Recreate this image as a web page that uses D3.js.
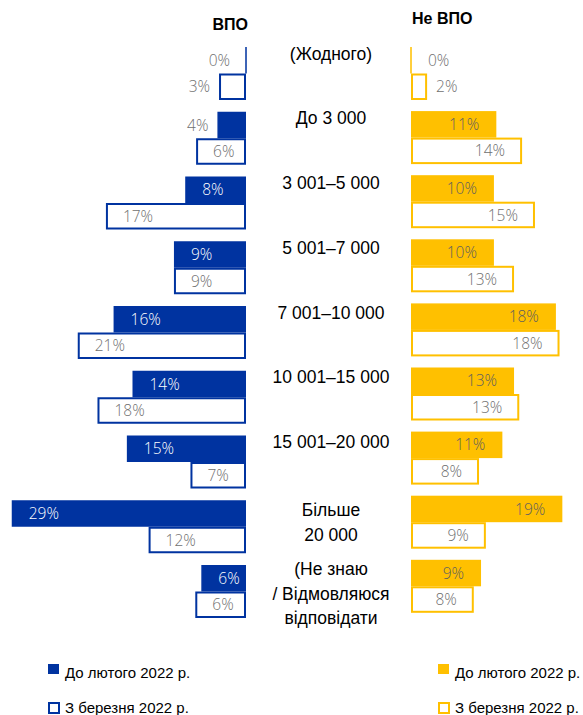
<!DOCTYPE html>
<html>
<head>
<meta charset="utf-8">
<script src="https://cdn.jsdelivr.net/npm/d3@7"></script>
<style>
  html, body { margin: 0; padding: 0; background: #fff; }
  svg { display: block; }
</style>
</head>
<body>
<div id="chart"></div>
<script>
// ── Data ────────────────────────────────────────────────────
const categories = [
  "(Жодного)", "До 3 000", "3 001–5 000", "5 001–7 000", "7 001–10 000",
  "10 001–15 000", "15 001–20 000", "Більше\n20 000",
  "(Не знаю\n/ Відмовляюся\nвідповідати"
];
const periods = ["До лютого 2022 р.", "З березня 2022 р."];
const groups  = ["ВПО", "Не ВПО"];

// share of respondents, %
const vpoBefore    = [0, 3.55, 7.55, 8.95, 16.45, 14.1, 14.8, 29.1, 5.55];
const vpoAfter     = [3.35, 6.2, 17.4, 8.95, 20.9, 18.45, 6.9, 12.1, 6.3];
const nonVpoBefore = [0, 10.6, 10.3, 10.3, 18.0, 12.8, 11.35, 18.8, 8.7];
const nonVpoAfter  = [2.0, 13.8, 15.4, 12.8, 18.45, 13.45, 8.45, 9.3, 7.8];

const BLUE   = "#0033A0";
const YELLOW = "#FFC000";

const W = 583, H = 715;
const svg = d3.select("#chart").append("svg")
  .attr("width", W).attr("height", H);

const LABEL_FONT = "'Open Sans', 'Segoe UI', sans-serif";
const CAT_FONT   = "'Liberation Sans', Arial, sans-serif";

// ── Scales ─────────────────────────────────────────────────
const xLeft  = d3.scaleLinear().domain([0, 30]).range([246, 246 - 30 * 8.05]);
const xRight = d3.scaleLinear().domain([0, 30]).range([411, 411 + 30 * 8.05]);

// each side has its own slightly different row step
const yLeft = d3.scaleBand().domain(categories)
  .range([47, 47 + 64.75 * 9 - 11.75]).paddingInner(11.75 / 64.75).paddingOuter(0);
const yRight = d3.scaleBand().domain(categories)
  .range([47, 47 + 64.1 * 9 - 11.1]).paddingInner(11.1 / 64.1).paddingOuter(0);

const pLeft  = d3.scaleBand().domain(periods).range([0, yLeft.bandwidth()]);
const pRight = d3.scaleBand().domain(periods).range([0, yRight.bandwidth()]);

const fmt = v => Math.round(v) + "%";

// ── One side of the butterfly ───────────────────────────────
function drawSide(x, y, p, before, after, color, dir, textFill) {
  const g = svg.append("g");
  const series = [
    { key: periods[0], values: before, filled: true },
    { key: periods[1], values: after,  filled: false }
  ];

  series.forEach(s => {
    s.values.forEach((v, i) => {
      const cat = categories[i];
      const x0 = x(0), x1 = x(v);
      const top = y(cat) + p(s.key);
      const h = p.bandwidth();
      const sw = s.filled ? 1.5 : 2;
      const left = Math.min(x0, x1);
      const w = Math.abs(x1 - x0);

      g.append("rect")
        .attr("x", left + (w > sw ? sw / 2 : 0))
        .attr("y", top + sw / 2)
        .attr("width", Math.max(w - sw, 0.01))
        .attr("height", h - sw)
        .attr("fill", s.filled ? color : "#fff")
        .attr("stroke", color)
        .attr("stroke-width", sw);

      // value label: inside near the far end, outside if the bar is short
      const inside = v >= 5;
      let tx, anchor;
      if (dir < 0) {
        if (inside) { tx = x1 + 17; anchor = "start"; }
        else { tx = Math.min(x1 - 9, x0 - 16); anchor = "end"; }
      } else {
        if (inside) { tx = x1 - 17; anchor = "end"; }
        else { tx = Math.max(x1 + 9, x0 + 17); anchor = "start"; }
      }
      g.append("text")
        .attr("x", tx)
        .attr("y", top + h / 2)
        .attr("dy", "0.36em")
        .attr("text-anchor", anchor)
        .attr("font-family", LABEL_FONT)
        .attr("font-weight", 300)
        .attr("font-size", 15.5)
        .attr("fill", s.filled && inside ? textFill : "#707070")
        .text(fmt(v));
    });
  });
}

drawSide(xLeft,  yLeft,  pLeft,  vpoBefore,    vpoAfter,    BLUE,   -1, "#ffffff");
drawSide(xRight, yRight, pRight, nonVpoBefore, nonVpoAfter, YELLOW,  1, "#5f5f5f");

// ── Category labels in the middle ──────────────────────────
categories.forEach(cat => {
  const lines = cat.split("\n");
  const first = lines.length === 1 ? 12.5 : lines.length === 2 ? 16 : 10;
  const t = svg.append("text")
    .attr("text-anchor", "middle")
    .attr("font-family", CAT_FONT)
    .attr("font-size", 17.5)
    .attr("fill", "#000");
  lines.forEach((ln, k) => {
    t.append("tspan")
      .attr("x", 331)
      .attr("y", yLeft(cat) + first + k * 24.5)
      .text(ln);
  });
});

// ── Group titles ───────────────────────────────────────────
svg.append("text")
  .attr("x", 248).attr("y", 30)
  .attr("text-anchor", "end")
  .attr("font-family", CAT_FONT).attr("font-weight", "bold").attr("font-size", 16)
  .text(groups[0]);
svg.append("text")
  .attr("x", 412).attr("y", 24)
  .attr("font-family", CAT_FONT).attr("font-weight", "bold").attr("font-size", 16)
  .text(groups[1]);

// ── Legends ────────────────────────────────────────────────
function legend(lx, color) {
  const lg = svg.append("g");
  lg.append("rect")
    .attr("x", lx).attr("y", 664).attr("width", 11).attr("height", 10)
    .attr("fill", color);
  lg.append("text")
    .attr("x", lx + 17).attr("y", 678)
    .attr("font-family", CAT_FONT).attr("font-size", 15)
    .text(periods[0]);
  lg.append("rect")
    .attr("x", lx + 1).attr("y", 703).attr("width", 10).attr("height", 10)
    .attr("fill", "#fff").attr("stroke", color).attr("stroke-width", 2);
  lg.append("text")
    .attr("x", lx + 17).attr("y", 713)
    .attr("font-family", CAT_FONT).attr("font-size", 15)
    .text(periods[1]);
}
legend(48, BLUE);
legend(438, YELLOW);
</script>
</body>
</html>
